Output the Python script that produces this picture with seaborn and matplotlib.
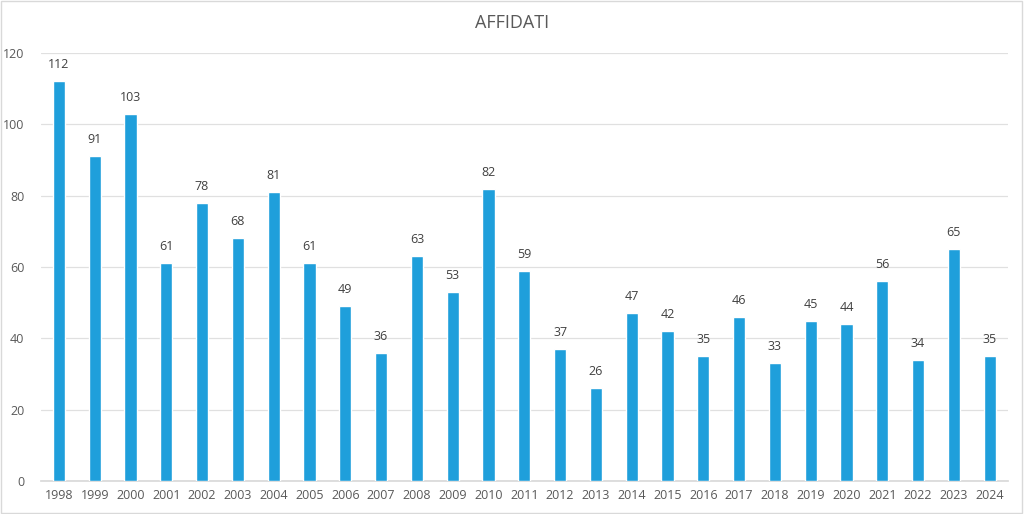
import matplotlib
matplotlib.use("Agg")
import matplotlib.pyplot as plt
import seaborn as sns
import pandas as pd

years = [str(y) for y in range(1998, 2025)]
values = [112, 91, 103, 61, 78, 68, 81, 61, 49, 36, 63, 53, 82, 59, 37, 26,
          47, 42, 35, 46, 33, 45, 44, 56, 34, 65, 35]
title = "AFFIDATI"

sns.set_theme(style="white")
plt.rcParams['font.family'] = ['Open Sans', 'DejaVu Sans']

df = pd.DataFrame({"anno": years, "valore": values})
fig = plt.figure(figsize=(10.24, 5.14), dpi=100)
ax = fig.add_axes([0.040, 0.064, 0.944, 0.833])
sns.barplot(data=df, x="anno", y="valore", color="#1F9FDB", width=0.34,
            saturation=1, ax=ax, zorder=3)
ax.set_ylim(0, 120)
ax.set_yticks(range(0, 121, 20))
ax.set_xlim(-0.5, len(years) - 0.5)
ax.grid(axis="y", color="#E0E0E0", linewidth=0.9, zorder=0)
ax.set_axisbelow(True)
for s in ["top", "right", "left"]:
    ax.spines[s].set_visible(False)
ax.spines["bottom"].set_color("#D9D9D9")
ax.tick_params(axis="both", colors="#595959", labelsize=9, length=0, pad=6)
ax.tick_params(axis="y", pad=12)
ax.set_xlabel("")
ax.set_ylabel("")
for i, v in enumerate(values):
    ax.text(i, v + 2.8, str(v), ha="center", va="bottom", fontsize=9, color="#404040")
fig.text(0.5, 0.955, title, ha="center", va="center", fontsize=13, color="#595959")
fig.patches.append(plt.Rectangle((0.001, 0.002), 0.997, 0.996, transform=fig.transFigure,
                                 fill=False, edgecolor="#D9D9D9", linewidth=1))
fig.savefig("out.png", dpi=100)
